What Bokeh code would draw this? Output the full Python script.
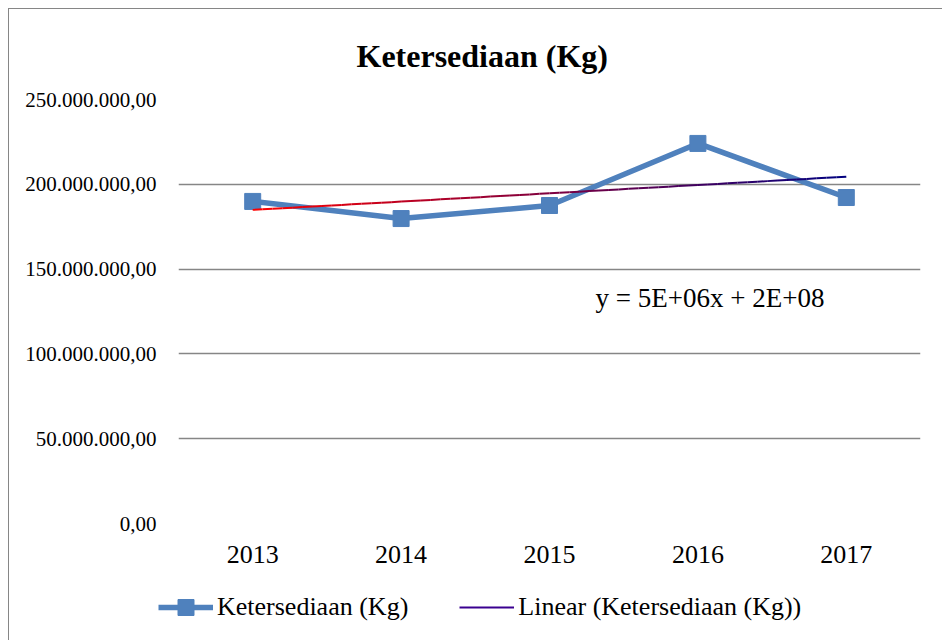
import numpy as np
from bokeh.plotting import figure
from bokeh.layouts import column
from bokeh.models import FixedTicker, Label, Legend, LegendItem, Range1d
from bokeh.embed import file_html
from bokeh.resources import INLINE

# ---- data ----
years = [2013, 2014, 2015, 2016, 2017]
ketersediaan = [189.9e6, 179.8e6, 187.5e6, 224.1e6, 192.2e6]
yticks = [0, 50e6, 100e6, 150e6, 200e6, 250e6]
ytick_labels = ["0,00", "50.000.000,00", "100.000.000,00", "150.000.000,00",
                "200.000.000,00", "250.000.000,00"]
title_text = "Ketersediaan (Kg)"
series_name = "Ketersediaan (Kg)"
trend_name = "Linear (Ketersediaan (Kg))"
equation_text = "y = 5E+06x + 2E+08"

FONT = "Liberation Serif"
W, H1, H2 = 933, 575, 56
BLUE = "#4F81BD"

p = figure(width=W, height=H1, output_backend="svg", toolbar_location=None,
           x_range=Range1d(2012.5, 2017.5), y_range=Range1d(0, 250e6),
           min_border_left=169, min_border_right=22,
           min_border_top=90, min_border_bottom=H1 - 514)
p.outline_line_color = None
p.background_fill_color = "white"
p.border_fill_color = "white"

# title
p.title.text = title_text
p.title.text_font = FONT
p.title.text_font_size = "32px"
p.title.text_font_style = "bold"
p.title.text_color = "black"
p.title.align = "left"
p.title.offset = 178
p.title.standoff = 52

# axes
p.yaxis.ticker = FixedTicker(ticks=yticks)
p.yaxis.major_label_overrides = {t: l for t, l in zip(yticks, ytick_labels)}
p.yaxis.axis_line_color = None
p.yaxis.major_tick_line_color = None
p.yaxis.minor_tick_line_color = None
p.yaxis.major_label_text_font = FONT
p.yaxis.major_label_text_font_size = "21px"
p.yaxis.major_label_text_color = "black"
p.yaxis.major_label_standoff = 16

p.xaxis.ticker = FixedTicker(ticks=years)
p.xaxis.axis_line_color = None
p.xaxis.major_tick_line_color = None
p.xaxis.minor_tick_line_color = None
p.xaxis.major_label_text_font = FONT
p.xaxis.major_label_text_font_size = "26px"
p.xaxis.major_label_text_color = "black"
p.xaxis.major_label_standoff = 16

p.xgrid.grid_line_color = None
p.ygrid.grid_line_color = "#868686"
p.ygrid.grid_line_width = 1.5

# main series
p.line(years, ketersediaan, line_color=BLUE, line_width=5.5)
p.scatter(years, ketersediaan, marker="square", size=16,
          fill_color=BLUE, line_color=BLUE)

# linear trend (least squares from data)
xs = np.arange(1, len(years) + 1, dtype=float)
slope, intercept = np.polyfit(xs, np.array(ketersediaan), 1)
n_seg = 60
tx = np.linspace(years[0], years[-1], n_seg + 1)
ty = slope * (tx - years[0] + 1) + intercept
c0 = np.array([255, 0, 0])
c1 = np.array([0, 0, 128])
cols = []
for i in range(n_seg):
    f = (i + 0.5) / n_seg
    c = (c0 * (1 - f) + c1 * f).astype(int)
    cols.append("#%02x%02x%02x" % tuple(c))
p.segment(x0=tx[:-1], y0=ty[:-1], x1=tx[1:], y1=ty[1:],
          line_color=cols, line_width=2)

# equation label
p.add_layout(Label(x=2015.31, y=132.7e6, text=equation_text, text_font=FONT,
                   text_font_size="27px", text_color="black", text_baseline="middle",
                   text_align="left"))

# legend strip (separate figure; its renderers sit outside its visible range)
p2 = figure(width=W, height=H2, output_backend="svg", toolbar_location=None,
            x_range=Range1d(0, 1), y_range=Range1d(0, 1),
            x_axis_type=None, y_axis_type=None,
            min_border_left=0, min_border_right=0, min_border_top=0, min_border_bottom=0,
            styles={"margin-left": "-20px"})
p2.outline_line_color = None
p2.grid.visible = False
p2.border_fill_color = None
p2.background_fill_color = None
l_line = p2.line(years, ketersediaan, line_color=BLUE, line_width=5.5)
l_mark = p2.scatter(years, ketersediaan, marker="square", size=16,
                    fill_color=BLUE, line_color=BLUE)
l_trend = p2.line(years, ketersediaan, line_color="#3a0090", line_width=2)
legend = Legend(items=[LegendItem(label=series_name, renderers=[l_line, l_mark]),
                       LegendItem(label=trend_name, renderers=[l_trend])],
                orientation="horizontal", location=(0, 13),
                label_text_font=FONT, label_text_font_size="26px",
                label_text_color="black", glyph_width=55, glyph_height=40,
                label_standoff=4, spacing=51, padding=0, margin=0,
                border_line_color=None, background_fill_alpha=0)
p2.add_layout(legend, "center")

layout = column(p, p2, spacing=0,
                styles={"margin-left": "8px", "margin-top": "8px",
                        "border-left": "1px solid #868686",
                        "border-top": "1px solid #868686"})
open("out.html", "w").write(file_html(layout, INLINE))
